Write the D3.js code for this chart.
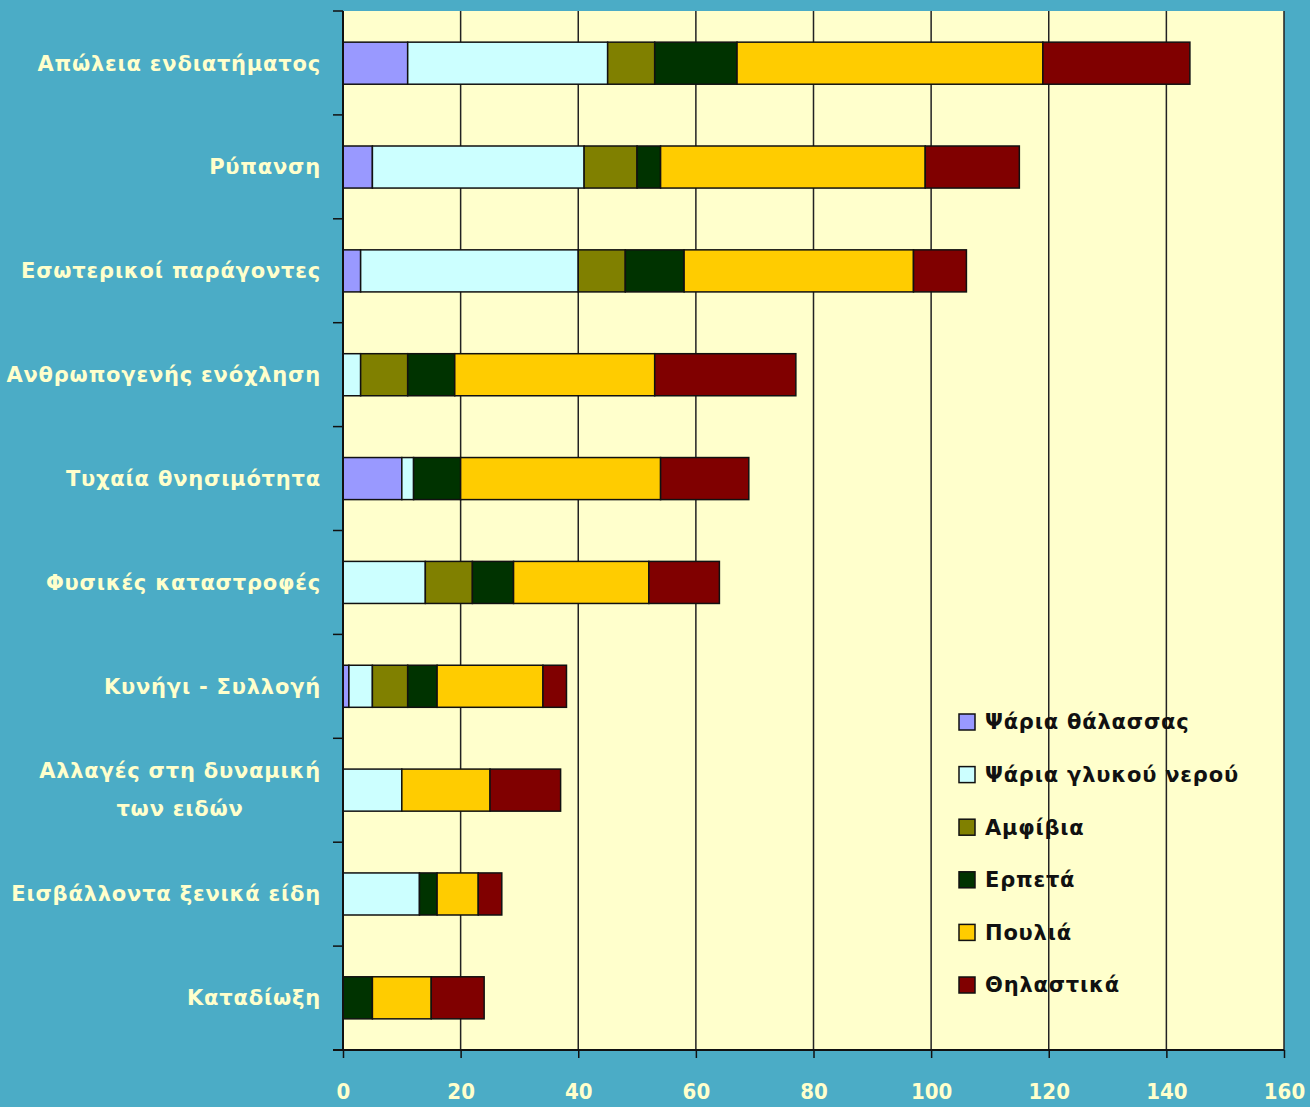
<!DOCTYPE html>
<html><head><meta charset="utf-8">
<script src="https://cdn.jsdelivr.net/npm/d3@7"></script>
<style>html,body{margin:0;padding:0;background:#4BACC6;}</style>
</head><body>
<svg id="c" width="1310" height="1107"></svg>
<script>
const categories = ["Απώλεια ενδιατήματος","Ρύπανση","Εσωτερικοί παράγοντες","Ανθρωπογενής ενόχληση","Τυχαία θνησιμότητα","Φυσικές καταστροφές","Κυνήγι - Συλλογή","Αλλαγές στη δυναμική|των ειδών","Εισβάλλοντα ξενικά είδη","Καταδίωξη"];
const seriesNames = ["Ψάρια θάλασσας","Ψάρια γλυκού νερού","Αμφίβια","Ερπετά","Πουλιά","Θηλαστικά"];
const seaFish    = [11, 5, 3, 0, 10, 0, 1, 0, 0, 0];
const freshFish  = [34, 36, 37, 3, 2, 14, 4, 10, 13, 0];
const amphibians = [8, 9, 8, 8, 0, 8, 6, 0, 0, 0];
const reptiles   = [14, 4, 10, 8, 8, 7, 5, 0, 3, 5];
const birds      = [52, 45, 39, 34, 34, 23, 18, 15, 7, 10];
const mammals    = [25, 16, 9, 24, 15, 12, 4, 12, 4, 9];
const xTicks = [0,20,40,60,80,100,120,140,160];
const colors = ["#9999FF","#CCFFFF","#808000","#003300","#FFCC00","#800000"];

const seriesVals = [seaFish, freshFish, amphibians, reptiles, birds, mammals];
const rows = categories.map((c,i)=>{const o={cat:c}; seriesNames.forEach((s,j)=>o[s]=seriesVals[j][i]); return o;});
const stack = d3.stack().keys(seriesNames)(rows);

const svg = d3.select("#c");
const L=343, R=1284, T=11, B=1050;
const x = d3.scaleLinear().domain([0,160]).range([L,R]);
const y = d3.scaleBand().domain(categories).range([T,B]).paddingInner(0.595).paddingOuter(0.3);

svg.append("rect").attr("x",L).attr("y",T).attr("width",R-L).attr("height",B-T).attr("fill","#FFFFCC");

// gridlines
svg.append("g").selectAll("line").data(xTicks.slice(1)).join("line")
  .attr("x1",d=>x(d)).attr("x2",d=>x(d)).attr("y1",T).attr("y2",B)
  .attr("stroke","#222").attr("stroke-width",1.5);

// bars
svg.append("g").selectAll("g").data(stack).join("g").attr("fill",(d,i)=>colors[i])
  .selectAll("rect").data(d=>d.filter(p=>p[1]-p[0]>0)).join("rect")
  .attr("x",d=>x(d[0])).attr("width",d=>x(d[1])-x(d[0]))
  .attr("y",d=>y(d.data.cat)).attr("height",y.bandwidth())
  .attr("stroke","#111").attr("stroke-width",1.5);

// y axis line & ticks at band boundaries
const step = (B-T)/categories.length;
svg.append("line").attr("x1",L).attr("x2",L).attr("y1",T).attr("y2",B).attr("stroke","#111").attr("stroke-width",2);
svg.append("g").selectAll("line").data(d3.range(categories.length+1)).join("line")
  .attr("x1",L-10).attr("x2",L).attr("y1",i=>T+i*step).attr("y2",i=>T+i*step)
  .attr("stroke","#111").attr("stroke-width",1.5);

// x axis
const xAxis = svg.append("g").attr("transform",`translate(0,${B})`)
  .call(d3.axisBottom(x).tickValues(xTicks).tickSize(8).tickSizeOuter(0).tickPadding(25));
xAxis.select(".domain").remove();
xAxis.selectAll(".tick line").attr("stroke","#111").attr("stroke-width",1.5);
xAxis.selectAll(".tick text").attr("fill","#FFFFCC").attr("font-family","DejaVu Sans Condensed, DejaVu Sans").attr("font-weight","bold").attr("font-size",22);
svg.append("line").attr("x1",L-10).attr("x2",R).attr("y1",B).attr("y2",B).attr("stroke","#111").attr("stroke-width",2);

// category labels
const lab = svg.append("g").attr("font-family","DejaVu Sans").attr("font-weight","bold").attr("font-size",21).attr("letter-spacing","0.8px").attr("fill","#FFFFCC");
categories.forEach(c=>{
  const cy = y(c)+y.bandwidth()/2;
  const parts = c.split("|");
  if(parts.length===1){
    lab.append("text").attr("x",321).attr("y",cy).attr("dy","0.35em").attr("text-anchor","end").text(c);
  } else {
    const t1 = lab.append("text").attr("x",321).attr("y",cy-19).attr("dy","0.35em").attr("text-anchor","end").text(parts[0]);
    const w = t1.node().getComputedTextLength();
    lab.append("text").attr("x",321-w/2).attr("y",cy+19).attr("dy","0.35em").attr("text-anchor","middle").text(parts[1]);
  }
});

// legend
const lg = svg.append("g").attr("font-family","DejaVu Sans").attr("font-weight","bold").attr("font-size",21).attr("letter-spacing","0.8px");
seriesNames.forEach((s,i)=>{
  const ly = 722 + i*52.6;
  lg.append("rect").attr("x",959).attr("y",ly-8).attr("width",16).attr("height",16).attr("fill",colors[i]).attr("stroke","#111").attr("stroke-width",1.5);
  lg.append("text").attr("x",985).attr("y",ly).attr("dy","0.35em").attr("fill","#111").text(s);
});
</script>
</body></html>
